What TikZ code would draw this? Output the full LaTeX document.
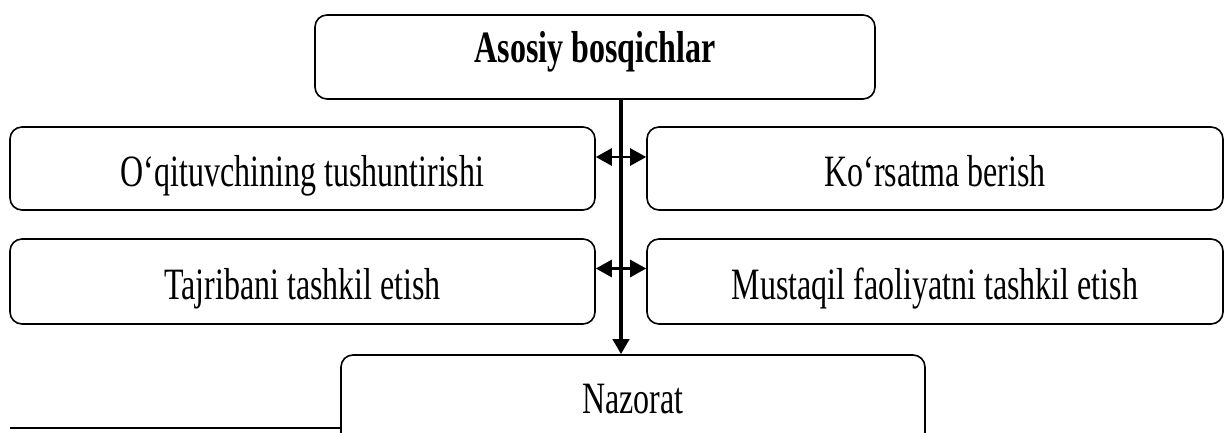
\documentclass[tikz,border=0pt]{standalone}
\usepackage{fontspec}
\usepackage{graphicx}
\setmainfont{Liberation Serif}
\usetikzlibrary{arrows.meta}
\newcommand{\vstr}[1]{\scalebox{1}[1.4]{#1}}
\begin{document}
\begin{tikzpicture}[x=1pt,y=-1pt,
  box/.style={draw, line width=1.6pt, rounded corners=12pt, inner sep=0pt,
    font=\fontsize{32}{36}\selectfont, text depth=0pt, text height=35pt},
  trunk/.style={line width=4pt, -{Triangle[length=15pt,width=16pt]}},
  twoway/.style={line width=2.6pt, {Triangle[length=16pt,width=17pt]}-{Triangle[length=16pt,width=17pt]}},
  rule/.style={line width=1.8pt}]
\clip (0,0) rectangle (1224,432);
\fill[white] (0,0) rectangle (1224,432);
\node[box, minimum width=560pt, minimum height=84pt, font=\fontsize{32}{36}\selectfont\bfseries, text height=10pt] (top) at (595,57) {\vstr{Asosiy bosqichlar}};
\node[box, minimum width=585pt, minimum height=83pt] (l1) at (302.5,168.5) {\vstr{O‘qituvchining tushuntirishi}};
\node[box, minimum width=576pt, minimum height=83pt] (r1) at (935,168.5) {\vstr{Ko‘rsatma berish}};
\node[box, minimum width=585pt, minimum height=85pt] (l2) at (302.5,281.5) {\vstr{Tajribani tashkil etish}};
\node[box, minimum width=576pt, minimum height=85pt] (r2) at (935,281.5) {\vstr{Mustaqil faoliyatni tashkil etish}};
\node[box, minimum width=584pt, minimum height=90pt, text height=26pt] (naz) at (633,400) {\vstr{Nazorat}};
\coordinate (vx) at (621,0);
\coordinate (hl) at (10,428);
\draw[trunk] (top.south -| vx) -- (naz.north -| vx);
\draw[twoway] ([yshift=11.5pt]l1.east) -- ([yshift=11.5pt]r1.west);
\draw[twoway] ([yshift=13pt]l2.east) -- ([yshift=13pt]r2.west);
\draw[rule] (hl) -- (naz.west |- hl);
\end{tikzpicture}
\end{document}
